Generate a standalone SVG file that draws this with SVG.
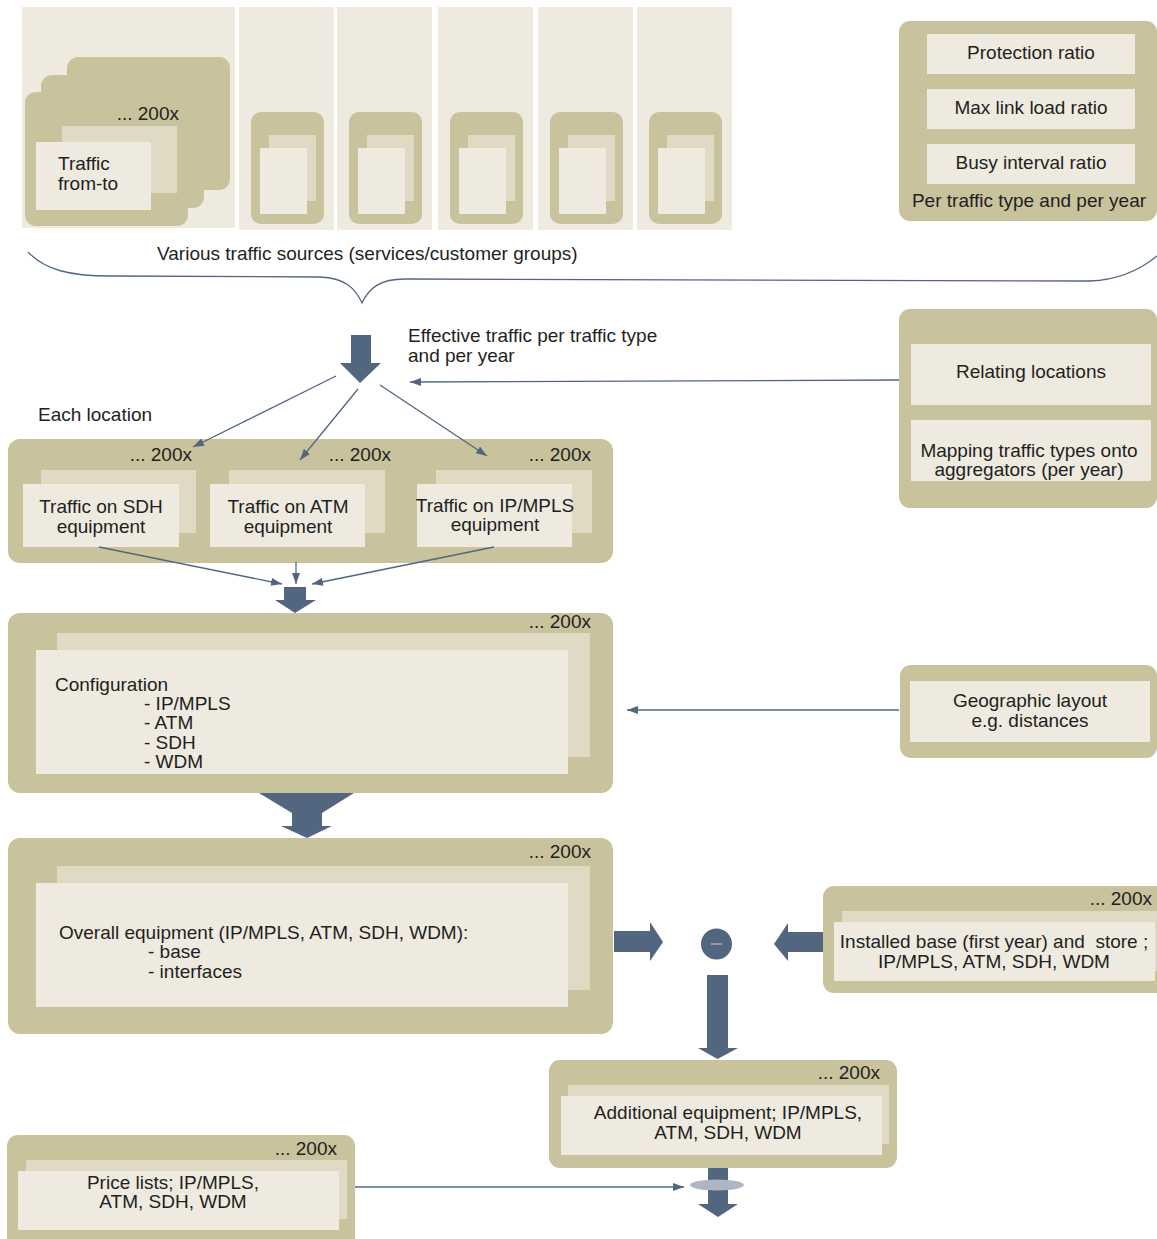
<svg xmlns="http://www.w3.org/2000/svg" width="1157" height="1239" viewBox="0 0 1157 1239">
  <style>
    text { font-family: "Liberation Sans", Arial, sans-serif; font-size: 19px; fill: #231F20; }
    .mid { text-anchor: middle; }
    .end { text-anchor: end; }
    .panel { fill: #EEEAE0; }
    .khaki { fill: #C8C29D; }
    .back { fill: #E0D9C3; }
    .front { fill: #EEEAE0; }
    .thin { fill: none; stroke: #52667F; stroke-width: 1.3; }
    .block { fill: #52667F; }
  </style>
  <defs>
    <marker id="ah" viewBox="0 0 11 8" refX="11" refY="4" markerWidth="11" markerHeight="8" markerUnits="userSpaceOnUse" orient="auto">
      <path d="M0,0 L11,4 L0,8 Z" fill="#52667F"/>
    </marker>
  </defs>

  <rect width="1157" height="1239" fill="#FFFFFF"/>

  <!-- traffic source columns -->
  <g id="traffic-sources">
    <rect class="panel" x="22" y="7" width="213" height="221"/>
    <rect class="panel" x="239" y="7" width="95" height="223"/>
    <rect class="panel" x="337" y="7" width="95" height="223"/>
    <rect class="panel" x="438" y="7" width="95" height="223"/>
    <rect class="panel" x="538" y="7" width="95" height="223"/>
    <rect class="panel" x="637" y="7" width="95" height="223"/>

    <!-- stacked source cards -->
    <rect class="khaki" x="67" y="57" width="163" height="133" rx="11"/>
    <rect class="khaki" x="41" y="75" width="163" height="133" rx="11"/>
    <rect class="khaki" x="25" y="92" width="163" height="134" rx="11"/>
    <rect class="back" x="62" y="126" width="115" height="67"/>
    <rect class="front" x="36" y="142" width="115" height="68"/>
    <text class="end" x="179" y="120">... 200x</text>
    <text x="58" y="170">Traffic</text>
    <text x="58" y="190">from-to</text>

    <!-- small cards -->
    <g>
      <rect class="khaki" x="251" y="112" width="73" height="112" rx="10"/>
      <rect class="back" x="269" y="135" width="47" height="66"/>
      <rect class="front" x="260" y="148" width="47" height="66"/>
    </g>
    <g>
      <rect class="khaki" x="349" y="112" width="73" height="112" rx="10"/>
      <rect class="back" x="367" y="135" width="47" height="66"/>
      <rect class="front" x="358" y="148" width="47" height="66"/>
    </g>
    <g>
      <rect class="khaki" x="450" y="112" width="73" height="112" rx="10"/>
      <rect class="back" x="468" y="135" width="47" height="66"/>
      <rect class="front" x="459" y="148" width="47" height="66"/>
    </g>
    <g>
      <rect class="khaki" x="550" y="112" width="73" height="112" rx="10"/>
      <rect class="back" x="568" y="135" width="47" height="66"/>
      <rect class="front" x="559" y="148" width="47" height="66"/>
    </g>
    <g>
      <rect class="khaki" x="649" y="112" width="73" height="112" rx="10"/>
      <rect class="back" x="667" y="135" width="47" height="66"/>
      <rect class="front" x="658" y="148" width="47" height="66"/>
    </g>

    <text x="157" y="260">Various traffic sources (services/customer groups)</text>
  </g>

  <!-- ratios per traffic type -->
  <g id="ratios">
    <rect class="khaki" x="899" y="21" width="258" height="200" rx="11"/>
    <rect class="front" x="927" y="34" width="208" height="40"/>
    <rect class="front" x="927" y="89" width="208" height="40"/>
    <rect class="front" x="927" y="144" width="208" height="40"/>
    <text class="mid" x="1031" y="59">Protection ratio</text>
    <text class="mid" x="1031" y="114">Max link load ratio</text>
    <text class="mid" x="1031" y="169">Busy interval ratio</text>
    <text class="mid" x="1029" y="207">Per traffic type and per year</text>
  </g>

  <!-- location mapping inputs -->
  <g id="relating-locations">
    <rect class="khaki" x="899" y="309" width="258" height="199" rx="11"/>
    <rect class="front" x="911" y="344" width="240" height="61"/>
    <rect class="front" x="911" y="420" width="240" height="61"/>
    <text class="mid" x="1031" y="378">Relating locations</text>
    <text class="mid" x="1029" y="457">Mapping traffic types onto</text>
    <text class="mid" x="1029" y="476">aggregators (per year)</text>
  </g>

  <g id="effective-traffic-label">
    <text x="408" y="342">Effective traffic per traffic type</text>
    <text x="408" y="362">and per year</text>
    <text x="38" y="421">Each location</text>
  </g>

  <!-- per-location traffic by technology -->
  <g id="location-traffic">
    <rect class="khaki" x="8" y="439" width="605" height="124" rx="12"/>
    <text class="end" x="192" y="461">... 200x</text>
    <text class="end" x="391" y="461">... 200x</text>
    <text class="end" x="591" y="461">... 200x</text>

    <rect class="back" x="41" y="470" width="155" height="63"/>
    <rect class="front" x="23" y="484" width="156" height="63"/>
    <text class="mid" x="101" y="513">Traffic on SDH</text>
    <text class="mid" x="101" y="533">equipment</text>

    <rect class="back" x="229" y="470" width="156" height="63"/>
    <rect class="front" x="210" y="484" width="155" height="63"/>
    <text class="mid" x="288" y="513">Traffic on ATM</text>
    <text class="mid" x="288" y="533">equipment</text>

    <rect class="back" x="436" y="470" width="156" height="63"/>
    <rect class="front" x="417" y="484" width="155" height="63"/>
    <text class="mid" x="495" y="512">Traffic on IP/MPLS</text>
    <text class="mid" x="495" y="531">equipment</text>
  </g>

  <!-- network configuration -->
  <g id="configuration">
    <rect class="khaki" x="8" y="613" width="605" height="180" rx="12"/>
    <rect class="back" x="57" y="633" width="533" height="124"/>
    <rect class="front" x="36" y="650" width="532" height="124"/>
    <text class="end" x="591" y="628">... 200x</text>
    <text x="55" y="691">Configuration</text>
    <text x="144" y="710">- IP/MPLS</text>
    <text x="144" y="729">- ATM</text>
    <text x="144" y="749">- SDH</text>
    <text x="144" y="768">- WDM</text>
  </g>

  <g id="geographic-layout">
    <rect class="khaki" x="900" y="665" width="257" height="93" rx="11"/>
    <rect class="front" x="910" y="681" width="240" height="61"/>
    <text class="mid" x="1030" y="707">Geographic layout</text>
    <text class="mid" x="1030" y="727">e.g. distances</text>
  </g>

  <!-- overall equipment -->
  <g id="overall-equipment">
    <rect class="khaki" x="8" y="838" width="605" height="196" rx="12"/>
    <rect class="back" x="57" y="866" width="533" height="124"/>
    <rect class="front" x="36" y="883" width="532" height="124"/>
    <text class="end" x="591" y="858">... 200x</text>
    <text x="59" y="939">Overall equipment (IP/MPLS, ATM, SDH, WDM):</text>
    <text x="148" y="958">- base</text>
    <text x="148" y="978">- interfaces</text>
  </g>

  <g id="installed-base">
    <rect class="khaki" x="823" y="886" width="344" height="107" rx="11"/>
    <rect class="back" x="842" y="911" width="320" height="60"/>
    <rect class="front" x="834" y="922" width="321" height="59"/>
    <text class="end" x="1152" y="905">... 200x</text>
    <text class="mid" x="994" y="948" xml:space="preserve">Installed base (first year) and  store ;</text>
    <text class="mid" x="994" y="968">IP/MPLS, ATM, SDH, WDM</text>
  </g>

  <g id="subtract">
    <circle cx="716.5" cy="944" r="15.5" fill="#52667F"/>
    <line x1="711" y1="944" x2="722" y2="944" stroke="#B9C2CF" stroke-width="1.2"/>
  </g>

  <g id="additional-equipment">
    <rect class="khaki" x="549" y="1060" width="348" height="108" rx="11"/>
    <rect class="back" x="568" y="1085" width="321" height="59"/>
    <rect class="front" x="561" y="1096" width="321" height="59"/>
    <text class="end" x="880" y="1079">... 200x</text>
    <text class="mid" x="728" y="1119">Additional equipment; IP/MPLS,</text>
    <text class="mid" x="728" y="1139">ATM, SDH, WDM</text>
  </g>

  <g id="price-lists">
    <rect class="khaki" x="7" y="1135" width="348" height="114" rx="11"/>
    <rect class="back" x="26" y="1160" width="321" height="59"/>
    <rect class="front" x="18" y="1171" width="321" height="59"/>
    <text class="end" x="337" y="1155">... 200x</text>
    <text class="mid" x="173" y="1189">Price lists; IP/MPLS,</text>
    <text class="mid" x="173" y="1208">ATM, SDH, WDM</text>
  </g>

  <!-- connectors -->
  <g id="connectors">
    <!-- brace grouping the traffic sources -->
    <path class="thin" d="M28,252 C45,270 70,276 110,276 L320,277 C345,278 355,288 362,303 C369,288 380,279 405,279 L1090,281 C1120,280 1140,270 1157,256"/>

    <!-- into the location layer -->
    <polygon class="block" points="351,335 371,335 371,363 381,363 360,383 340,363 351,363"/>
    <line class="thin" x1="336" y1="376" x2="193" y2="447" marker-end="url(#ah)"/>
    <line class="thin" x1="358" y1="389" x2="300" y2="460" marker-end="url(#ah)"/>
    <line class="thin" x1="380" y1="385" x2="487" y2="456" marker-end="url(#ah)"/>
    <line class="thin" x1="899" y1="380" x2="410" y2="382" marker-end="url(#ah)"/>

    <!-- merging into configuration -->
    <line class="thin" x1="99" y1="547" x2="282" y2="584" marker-end="url(#ah)"/>
    <line class="thin" x1="296" y1="562" x2="296" y2="584" marker-end="url(#ah)"/>
    <line class="thin" x1="494" y1="547" x2="312" y2="584" marker-end="url(#ah)"/>
    <polygon class="block" points="284,587 306,587 306,600 316,600 295,613 275,600 284,600"/>

    <line class="thin" x1="899" y1="710" x2="627" y2="710" marker-end="url(#ah)"/>

    <!-- configuration to overall equipment -->
    <polygon class="block" points="259,793 354,793 322,813 322,826 332,826 307,838 281,826 292,826 292,813"/>

    <!-- subtraction -->
    <polygon class="block" points="614,931 650,931 650,922 663,942 650,961 650,952 614,952"/>
    <polygon class="block" points="823,932 788,932 788,923 774,944 788,961 788,952 823,952"/>
    <polygon class="block" points="707,975 728,975 728,1048 738,1048 717.5,1059 698,1048 707,1048"/>

    <!-- additional equipment to cost -->
    <polygon class="block" points="708,1168 728,1168 728,1204 738,1204 718,1217 698,1204 708,1204"/>
    <ellipse cx="717" cy="1185" rx="27" ry="5.5" fill="#AEB5C4"/>
    <line class="thin" x1="355" y1="1187" x2="684" y2="1187" marker-end="url(#ah)"/>
  </g>
</svg>
